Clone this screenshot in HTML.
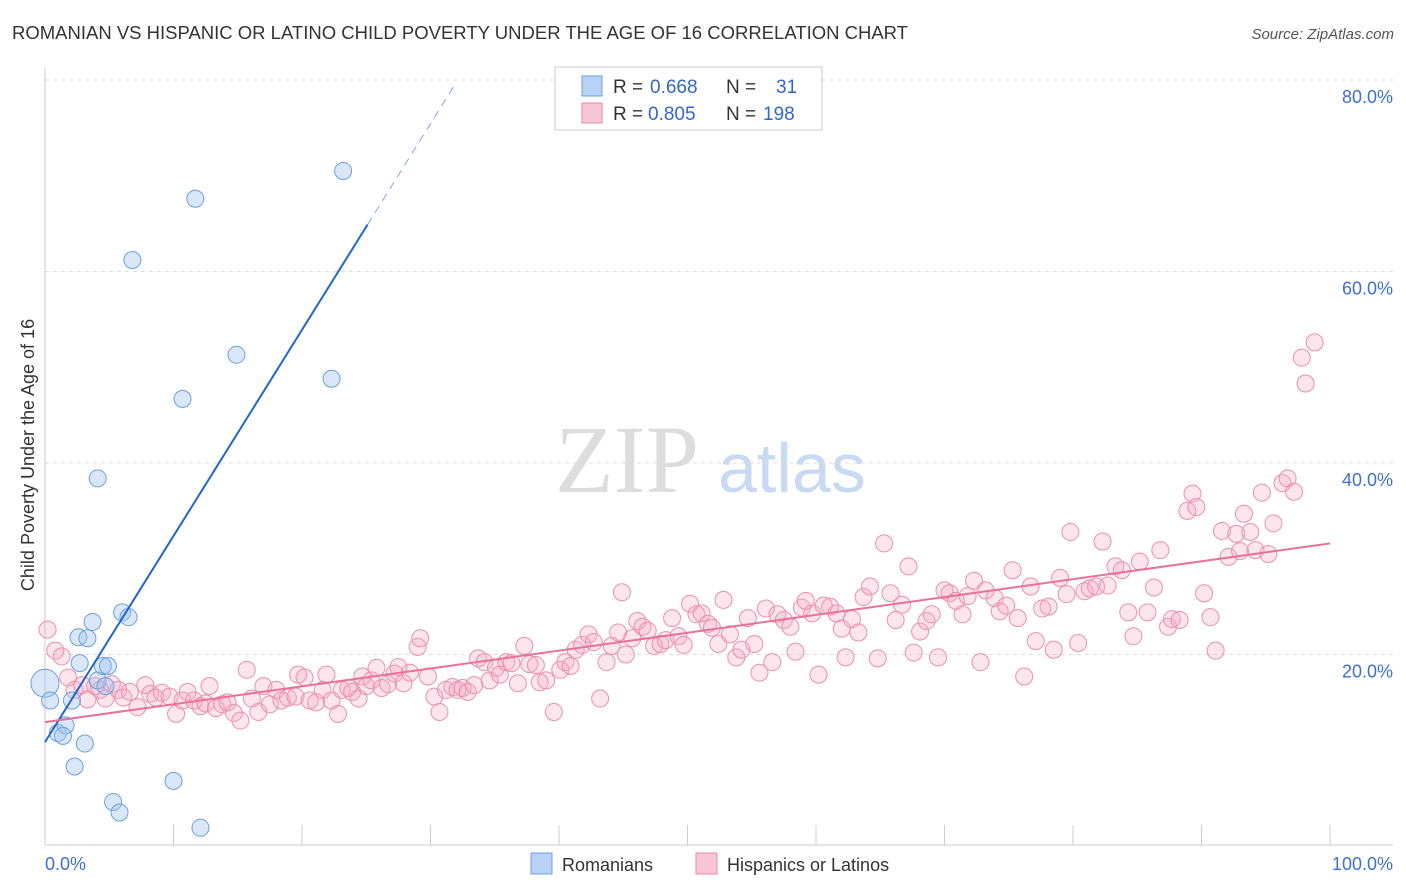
<!DOCTYPE html>
<html><head><meta charset="utf-8"><style>
body{margin:0;background:#fff;font-family:"Liberation Sans",sans-serif;}
svg{display:block}
</style></head><body>
<svg id="chart" width="1406" height="892">
<text x="12" y="39" font-size="18" fill="#333" textLength="896" lengthAdjust="spacingAndGlyphs">ROMANIAN VS HISPANIC OR LATINO CHILD POVERTY UNDER THE AGE OF 16 CORRELATION CHART</text>
<text x="1394" y="39" font-size="15" fill="#555" text-anchor="end" font-style="italic">Source: ZipAtlas.com</text>
<g>
<text x="555" y="492" font-size="96" font-family="Liberation Serif,serif" fill="#ddd">ZIP</text>
<text x="718" y="492" font-size="70" fill="#c8daf2">atlas</text>
</g>
<g id="grid"></g>
<g id="axes"></g>
<text transform="translate(34,455) rotate(-90)" font-size="18" fill="#333" text-anchor="middle">Child Poverty Under the Age of 16</text>
<g id="pink"></g>
<g id="blue"></g>
<g id="lines"></g>
<g>
<rect x="555" y="67" width="267" height="63" fill="#fff" stroke="#ccc"/>
<rect x="582" y="76" width="20" height="20" fill="#b8d2f5" stroke="#6c9fe0"/>
<rect x="582" y="103" width="20" height="20" fill="#f8c6d6" stroke="#e889a8"/>
<text y="93" font-size="19" fill="#333"><tspan x="613">R =</tspan><tspan x="650" fill="#3366cc">0.668</tspan><tspan x="726">N =</tspan><tspan x="776" fill="#3366cc">31</tspan></text>
<text y="120" font-size="19" fill="#333"><tspan x="613">R =</tspan><tspan x="648" fill="#3366cc">0.805</tspan><tspan x="726">N =</tspan><tspan x="763" fill="#3366cc">198</tspan></text>
</g>
<g>
<rect x="531" y="853" width="21" height="21" fill="#b8d2f5" stroke="#6c9fe0"/>
<text x="562" y="871" font-size="18" fill="#333">Romanians</text>
<rect x="696" y="853" width="21" height="21" fill="#f8c6d6" stroke="#e889a8"/>
<text x="727" y="871" font-size="18" fill="#333">Hispanics or Latinos</text>
</g>
</svg>
<script>
const yTicks=[20,40,60,80];
const yTickLabels=["20.0%","40.0%","60.0%","80.0%"];
const xTickLabels=["0.0%","100.0%"];
const blueX=[0,0.4,1.0,1.6,1.4,2.3,3.1,2.1,2.7,2.6,3.3,3.7,4.1,4.5,4.9,4.7,4.1,6.0,6.5,5.3,5.8,6.8,10.0,10.7,11.7,12.1,14.9,22.3,23.2];
const blueY=[17.0,15.2,11.8,12.6,11.5,8.3,10.7,15.2,19.1,21.8,21.7,23.4,17.3,18.8,18.8,16.7,38.4,24.4,23.9,4.6,3.5,61.2,6.8,46.7,67.6,1.9,51.3,48.8,70.5];
const pinkX=[0.2,0.8,1.3,1.8,2.3,2.9,3.3,3.9,4.3,4.7,5.2,5.7,6.1,6.6,7.2,7.8,8.2,8.6,9.1,9.7,10.2,10.7,11.1,11.6,12.1,12.5,12.8,13.3,13.8,14.2,14.7,15.2,15.7,16.1,16.6,17.0,17.5,18.0,18.4,18.9,19.5,19.7,20.2,20.6,21.1,21.6,21.9,22.3,22.8,23.1,23.6,23.9,24.4,24.7,25.0,25.4,25.8,26.2,26.7,27.2,27.5,27.9,28.4,29.0,29.2,29.8,30.3,30.7,31.2,31.7,32.1,32.5,32.9,33.4,33.7,34.2,34.6,35.1,35.4,35.9,36.3,36.8,37.3,37.7,38.2,38.5,39.0,39.6,40.1,40.5,40.9,41.3,41.8,42.3,42.7,43.2,43.7,44.1,44.6,44.9,45.2,45.7,46.1,46.5,46.9,47.4,47.9,48.3,48.8,49.3,49.7,50.2,50.7,51.1,51.6,51.9,52.4,52.8,53.3,53.8,54.2,54.7,55.2,55.6,56.1,56.6,57.0,57.5,58.0,58.4,58.9,59.2,59.7,60.2,60.6,61.1,61.6,62.0,62.3,62.8,63.3,63.7,64.2,64.8,65.3,65.8,66.2,66.7,67.2,67.6,68.1,68.6,69.0,69.5,70.0,70.4,70.9,71.4,71.8,72.3,72.8,73.2,73.9,74.3,74.8,75.3,75.7,76.2,76.7,77.1,77.6,78.1,78.5,79.0,79.5,79.8,80.4,80.9,81.3,81.8,82.3,82.7,83.3,83.8,84.3,84.7,85.2,85.8,86.3,86.8,87.4,87.7,88.3,88.9,89.3,89.6,90.2,90.7,91.1,91.6,92.1,92.7,93.0,93.3,93.8,94.2,94.7,95.2,95.6,96.3,96.7,97.2,97.8,98.1,98.8];
const pinkY=[22.6,20.4,19.8,17.6,16.3,16.8,15.3,16.7,16.3,15.4,16.9,16.3,15.5,16.1,14.5,16.8,15.9,15.5,16.0,15.6,13.8,15.2,16.1,15.2,14.6,14.9,16.7,14.4,14.8,15.0,13.9,13.1,18.4,15.4,14.0,16.7,14.8,16.3,15.2,15.5,15.6,17.9,17.6,15.2,15.0,16.3,17.9,15.2,13.8,16.3,16.5,16.1,15.4,17.7,16.7,17.3,18.6,16.5,16.9,18.0,18.7,17.0,18.1,20.8,21.7,17.7,15.6,14.0,16.3,16.6,16.3,16.5,16.1,16.8,19.6,19.2,17.3,18.6,17.9,19.2,19.1,17.0,20.9,19.0,18.9,17.1,17.3,14.0,18.4,19.2,18.8,20.5,21.0,22.1,21.3,15.4,19.2,20.9,22.3,26.5,20.0,21.7,23.5,22.9,22.5,20.9,21.1,21.5,23.8,21.9,21.0,25.3,24.2,24.3,23.2,22.8,21.1,25.7,22.1,19.7,20.5,23.8,21.1,18.1,24.8,19.2,24.2,23.6,22.9,20.3,24.9,25.6,24.3,17.9,25.1,25.0,24.3,22.7,19.7,23.7,22.3,26.0,27.1,19.6,31.6,26.4,23.6,25.2,29.2,20.2,22.4,23.5,24.2,19.7,26.7,26.4,25.6,24.2,26.1,27.7,19.2,26.7,25.9,24.5,25.1,28.8,23.8,17.7,27.1,21.4,24.8,25.0,20.5,28.0,26.3,32.8,21.2,26.6,26.9,27.1,31.8,27.2,29.2,28.8,24.4,21.9,29.7,24.4,27.0,30.9,22.9,23.7,23.6,35.0,36.8,35.4,26.4,23.9,20.4,32.9,30.2,32.6,30.8,34.7,32.8,30.9,36.9,30.5,33.7,37.9,38.4,37.0,51.0,48.3,52.6];
const blueFit=[10.85,2.153];   // intercept, slope
const pinkFit=[12.94,0.1866];
const blueSolidEnd=25.1, blueDashEnd=31.9;

const NS="http://www.w3.org/2000/svg";
const X0=45,X1=1330,Y0=846,Y80=80;
const sx=v=>X0+(X1-X0)*v/100;
const sy=v=>Y0-(Y0-Y80)*v/80;
function mk(tag,attrs,parent){const e=document.createElementNS(NS,tag);for(const k in attrs)e.setAttribute(k,attrs[k]);parent.appendChild(e);return e;}
const grid=document.getElementById('grid'),axes=document.getElementById('axes');
yTicks.forEach((t,i)=>{
  const l=mk('line',{x1:45,x2:1393,y1:sy(t),y2:sy(t),stroke:'#ddd','stroke-dasharray':'4,4'},grid);
  
  
  const tx=mk('text',{x:1393,y:sy(t)+23,'font-size':18,fill:'#3f6fd0','text-anchor':'end'},axes);
  tx.textContent=yTickLabels[i];
  
  
});
const ax=mk('line',{x1:45,x2:1393,y1:845,y2:845,stroke:'#ccc'},axes);


const ay=mk('line',{x1:45,x2:45,y1:68,y2:845,stroke:'#ccc'},axes);


for(let i=0;i<=10;i++){const t=mk('line',{x1:sx(i*10),x2:sx(i*10),y1:825,y2:845,stroke:'#ccc'},axes);
  
  }
[[0,'start',45],[1,'end',1393]].forEach(([i,a,x])=>{const t=mk('text',{x:x,y:870,'font-size':18,fill:'#3f6fd0','text-anchor':a},axes);t.textContent=xTickLabels[i];
  
  });
const pg=document.getElementById('pink');
pinkX.forEach((v,i)=>{const c=mk('circle',{cx:sx(v),cy:sy(pinkY[i]),r:8.5,fill:'rgba(245,170,195,0.3)',stroke:'#ea8fae','stroke-width':1},pg);
  
  });
const bg=document.getElementById('blue');
blueX.forEach((v,i)=>{const c=mk('circle',{cx:sx(v),cy:sy(blueY[i]),r:i===0?14:8.5,fill:'rgba(160,195,240,0.4)',stroke:'#6c9fe0','stroke-width':1},bg);
  
  });
const lg=document.getElementById('lines');
const bl=mk('line',{x1:sx(0),y1:sy(blueFit[0]),x2:sx(blueSolidEnd),y2:sy(blueFit[0]+blueFit[1]*blueSolidEnd),stroke:'#2266cc','stroke-width':2},lg);


const bd=mk('line',{x1:sx(blueSolidEnd),y1:sy(blueFit[0]+blueFit[1]*blueSolidEnd),x2:sx(blueDashEnd),y2:sy(blueFit[0]+blueFit[1]*blueDashEnd),stroke:'#7fa6e0','stroke-width':1,'stroke-dasharray':'8,6'},lg);


const pl=mk('line',{x1:sx(0),y1:sy(pinkFit[0]),x2:sx(100),y2:sy(pinkFit[0]+pinkFit[1]*100),stroke:'#e8719a','stroke-width':2},lg);


</script>
</body></html>
